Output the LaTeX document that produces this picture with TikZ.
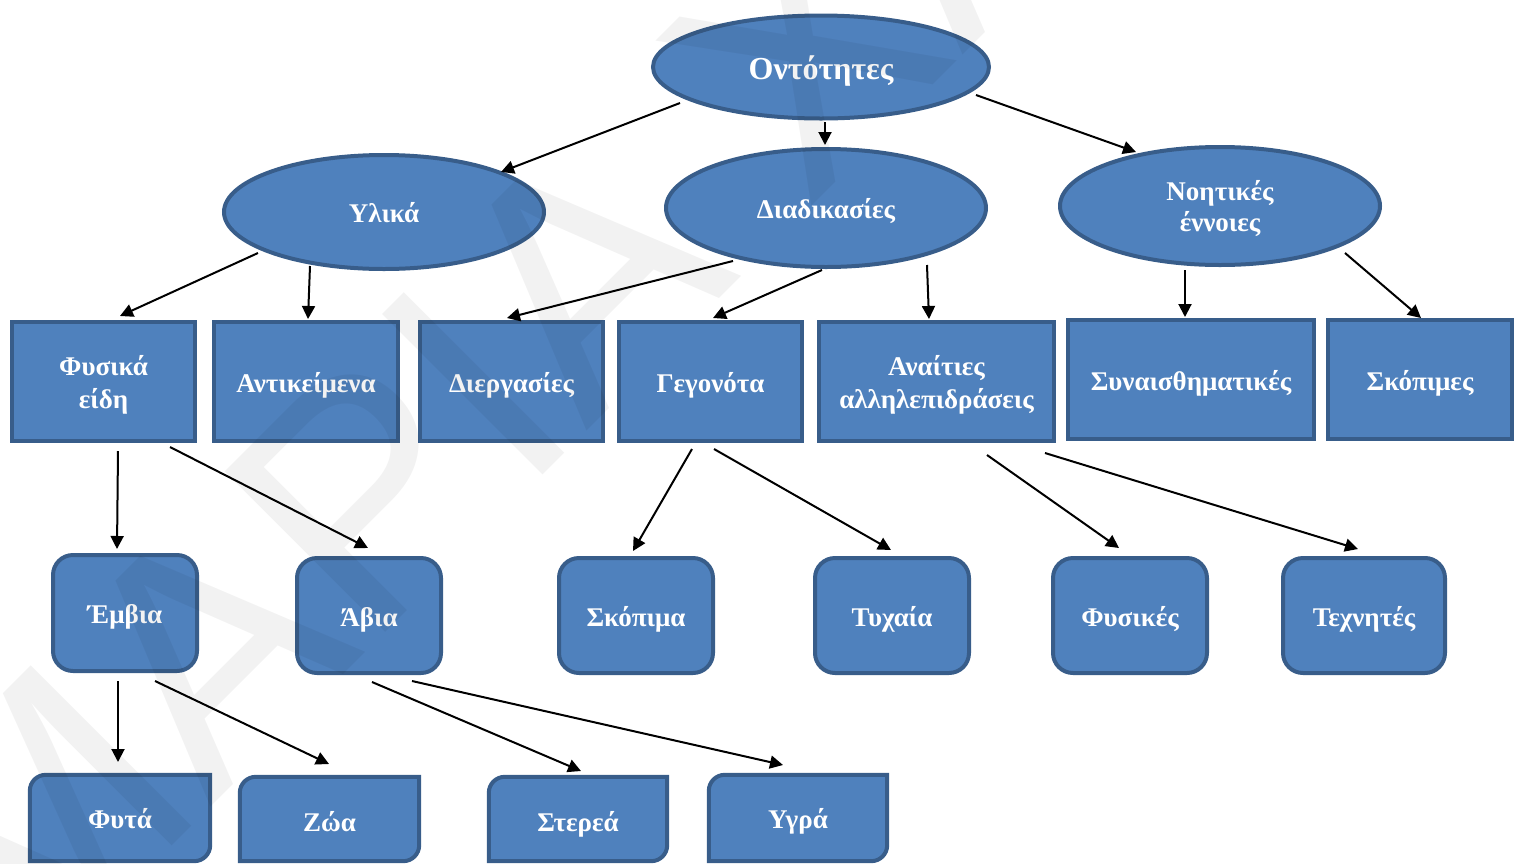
\documentclass[tikz,border=0pt]{standalone}
\usepackage{fontspec}
\setmainfont{Liberation Serif}
\newfontfamily\markfont{Liberation Sans}
\usetikzlibrary{shapes.geometric,arrows.meta}
\definecolor{boxfill}{HTML}{4F81BD}
\definecolor{boxedge}{HTML}{385D8A}
% one line of label text: fixed ascent and descent so baselines sit alike
\newcommand\ls{\vrule height 1em depth 0.222em width 0pt}
\tikzset{
  labelfont/.style={font=\bfseries\fontsize{27}{33}\selectfont},
  base/.style={fill=boxfill, draw=boxedge, line width=4pt, text=white,
    labelfont, align=center, inner sep=0pt},
  oval/.style={base, ellipse},
  sqbox/.style={base, rectangle},
  rndbox/.style={base, rectangle, rounded corners=20pt},
  slot/.style={rectangle, inner sep=0pt},
  diagbox/.style={fill=boxfill, draw=boxedge, line width=4pt},
  boxtext/.style={text=white, labelfont, align=center, inner sep=0pt},
  arr/.style={-{Triangle[length=13pt,width=13pt]}, line width=2pt, black},
}
% rectangle with the top-left and bottom-right corners rounded
\newcommand\diagshape[1]{%
  \draw[diagbox] (#1.south west) -- ([yshift=-16pt]#1.north west)
    to[out=90,in=180] ([xshift=16pt]#1.north west) -- (#1.north east)
    -- ([yshift=16pt]#1.south east) to[out=-90,in=0] ([xshift=-16pt]#1.south east)
    -- cycle;}
\begin{document}
\begin{tikzpicture}[x=1pt,y=-1pt]
\useasboundingbox (0,0) rectangle (1519,863);

% level 0 and 1: ellipses
\node[oval, minimum width=336pt, minimum height=103pt,
  font=\bfseries\fontsize{32}{38}\selectfont] (ont) at (821,67) {\ls Οντότητες};
\node[oval, minimum width=320pt, minimum height=114pt] (yli) at (384,212) {\ls Υλικά};
\node[oval, minimum width=320pt, minimum height=118pt] (dia) at (826,208) {\ls Διαδικασίες};
\node[oval, minimum width=320pt, minimum height=118pt,
  font=\bfseries\fontsize{27}{30}\selectfont] (noi) at (1220,206)
  {\vrule height 25pt depth 5pt width 0pt Νοητικές\\\vrule height 25pt depth 5pt width 0pt έννοιες};

% level 2: rectangles
\node[sqbox, minimum width=183pt, minimum height=119pt] (fys) at (103.5,381.5) {\ls Φυσικά\\\ls είδη};
\node[sqbox, minimum width=184pt, minimum height=119pt] (ant) at (306,381.5) {\ls Αντικείμενα};
\node[sqbox, minimum width=183pt, minimum height=119pt] (die) at (511.5,381.5) {\ls Διεργασίες};
\node[sqbox, minimum width=183pt, minimum height=119pt] (geg) at (710.5,381.5) {\ls Γεγονότα};
\node[sqbox, minimum width=235pt, minimum height=119pt] (ana) at (936.5,381.5) {\ls Αναίτιες\\\ls αλληλεπιδράσεις};
\node[sqbox, minimum width=246pt, minimum height=119pt] (syn) at (1191,379.5) {\ls Συναισθηματικές};
\node[sqbox, minimum width=184pt, minimum height=119pt] (sko) at (1420,379.5) {\ls Σκόπιμες};

% level 3: rounded boxes
\node[rndbox, minimum width=144pt, minimum height=116pt] (emv) at (125,613) {\ls Έμβια};
\node[rndbox, minimum width=144pt, minimum height=115pt] (avi) at (369,615.5) {\ls Άβια};
\node[rndbox, minimum width=154pt, minimum height=115pt] (skp) at (636,615.5) {\ls Σκόπιμα};
\node[rndbox, minimum width=154pt, minimum height=115pt] (tyx) at (892,615.5) {\ls Τυχαία};
\node[rndbox, minimum width=154pt, minimum height=115pt] (fyk) at (1130,615.5) {\ls Φυσικές};
\node[rndbox, minimum width=162pt, minimum height=115pt] (tex) at (1364,615.5) {\ls Τεχνητές};

% level 4: diagonal-rounded boxes
\node[slot, minimum width=180pt, minimum height=86pt] (fyt) at (120,818) {};
\node[slot, minimum width=179pt, minimum height=84pt] (zoa) at (329.5,819) {};
\node[slot, minimum width=178pt, minimum height=84pt] (ste) at (578,819) {};
\node[slot, minimum width=178pt, minimum height=86pt] (ygr) at (798,818) {};
\diagshape{fyt}\diagshape{zoa}\diagshape{ste}\diagshape{ygr}
\node[boxtext] at (fyt.center) {\ls Φυτά};
\node[boxtext] at ([yshift=-2pt]zoa.center) {\ls Ζώα};
\node[boxtext] at ([yshift=-2pt]ste.center) {\ls Στερεά};
\node[boxtext] at (ygr.center) {\ls Υγρά};

% connectors
\draw[arr] ([shift={(-141,36)}]ont.center) -- ([shift={(117,-40)}]yli.center);
\draw[arr] ([shift={(4,55)}]ont.center) -- ([shift={(-1,-63)}]dia.center);
\draw[arr] ([shift={(155,28)}]ont.center) -- ([shift={(-84,-54)}]noi.center);

\draw[arr] ([shift={(-126,41)}]yli.center) -- ([shift={(16.5,-65.5)}]fys.center);
\draw[arr] ([shift={(-74,54)}]yli.center) -- ([shift={(2,-62.5)}]ant.center);
\draw[arr] ([shift={(-93,53)}]dia.center) -- ([shift={(-4.5,-63.5)}]die.center);
\draw[arr] ([shift={(-4,62)}]dia.center) -- ([shift={(2.5,-63.5)}]geg.center);
\draw[arr] ([shift={(101,57)}]dia.center) -- ([shift={(-7.5,-62.5)}]ana.center);
\draw[arr] ([shift={(-35,64)}]noi.center) -- ([shift={(-6,-62.5)}]syn.center);
\draw[arr] ([shift={(125,47)}]noi.center) -- ([shift={(1,-61.5)}]sko.center);

\draw[arr] ([shift={(14.5,69.5)}]fys.center) -- ([shift={(-8,-64)}]emv.center);
\draw[arr] ([shift={(66.5,65.5)}]fys.center) -- ([shift={(-1,-67.5)}]avi.center);
\draw[arr] ([shift={(-18.5,67.5)}]geg.center) -- ([shift={(-3,-64.5)}]skp.center);
\draw[arr] ([shift={(3.5,67.5)}]geg.center) -- ([shift={(-1,-65.5)}]tyx.center);
\draw[arr] ([shift={(50.5,73.5)}]ana.center) -- ([shift={(-11,-67.5)}]fyk.center);
\draw[arr] ([shift={(108.5,71.5)}]ana.center) -- ([shift={(-6,-66.5)}]tex.center);

\draw[arr] ([shift={(-7,68)}]emv.center) -- ([shift={(-2,-56)}]fyt.center);
\draw[arr] ([shift={(30,68)}]emv.center) -- ([shift={(-0.5,-55)}]zoa.center);
\draw[arr] ([shift={(3,66.5)}]avi.center) -- ([shift={(3,-48)}]ste.center);
\draw[arr] ([shift={(43,65.5)}]avi.center) -- ([shift={(-15,-53)}]ygr.center);

% faint diagonal watermark over everything
\node[rotate=45, anchor=base west, inner sep=0pt, text=black, text opacity=0.05,
  font=\markfont\fontsize{330}{330}\selectfont] (mark) at (16,1002) {ΜΑΡΙΑ ΧΑΡ};
\end{tikzpicture}
\end{document}
